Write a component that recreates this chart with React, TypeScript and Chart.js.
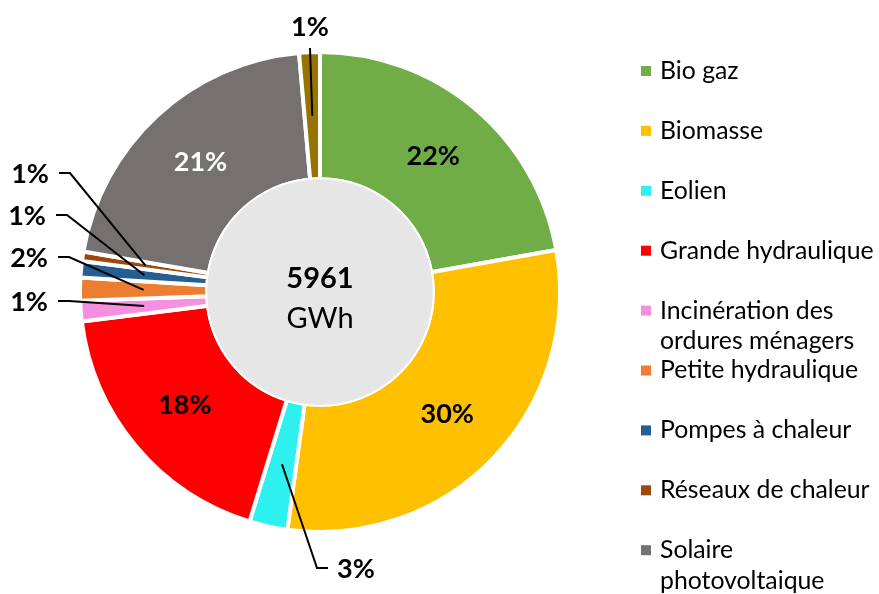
import React, { useEffect, useRef } from 'react';
import { Chart, registerables } from 'chart.js';

Chart.register(...registerables);

// ---- data ----
const LABELS: (string | string[])[] = [
  'Bio gaz',
  'Biomasse',
  'Eolien',
  'Grande hydraulique',
  ['Incinération des', 'ordures ménagers'],
  'Petite hydraulique',
  'Pompes à chaleur',
  'Réseaux de chaleur',
  ['Solaire', 'photovoltaique'],
  'Solaire thermique',
];
const VALUES_GWH = [1323, 1787, 153, 1091, 82, 92, 66, 38, 1246, 83];
const TOTAL_TEXT = '5961';
const UNIT_TEXT = 'GWh';

// ---- styles ----
const COLORS = ['#70AD47', '#FFC000', '#2EF0EE', '#FF0000', '#F58FDF', '#ED7D31', '#255E91', '#9E480E', '#767171', '#997300'];
const INSIDE_TEXT_COLORS = ['#000', '#000', '#000', '#000', '#000', '#000', '#000', '#000', '#FFF', '#000'];
const FONT = 'Lato, "Open Sans", "DejaVu Sans", sans-serif';

// callout placement (relative to the doughnut centre) for the slices labelled outside the ring
type Callout = { dx: number; dy: number; align: 'left' | 'right' | 'center' } | null;
const CALLOUTS: Callout[] = [
  null,
  null,
  { dx: 17, dy: 277, align: 'left' },
  null,
  { dx: -272, dy: 10, align: 'right' },
  { dx: -272, dy: -34, align: 'right' },
  { dx: -274, dy: -76, align: 'right' },
  { dx: -271, dy: -118, align: 'right' },
  null,
  { dx: -10, dy: -265, align: 'center' },
];

const pct = (v: number, total: number) => Math.round((v / total) * 100) + '%';

const labelsPlugin = {
  id: 'customLabels',
  afterDatasetsDraw(chart: any) {
    const ctx: CanvasRenderingContext2D = chart.ctx;
    const meta = chart.getDatasetMeta(0);
    const arcs = meta.data;
    if (!arcs.length) return;
    const a0 = arcs[0];
    const cx = a0.x;
    const cy = a0.y;
    const inner = a0.innerRadius;
    const values: number[] = chart.data.datasets[0].data;
    const total = values.reduce((s, v) => s + v, 0);

    // centre disc
    ctx.save();
    ctx.beginPath();
    ctx.arc(cx, cy, inner + 1, 0, Math.PI * 2);
    ctx.fillStyle = '#E7E6E6';
    ctx.fill();
    ctx.lineWidth = 2;
    ctx.strokeStyle = '#FFFFFF';
    ctx.stroke();
    ctx.fillStyle = '#000';
    ctx.textAlign = 'center';
    ctx.textBaseline = 'middle';
    ctx.font = `bold 29px ${FONT}`;
    ctx.fillText(TOTAL_TEXT, cx, cy - 13);
    ctx.font = `29px ${FONT}`;
    ctx.fillText(UNIT_TEXT, cx, cy + 27);
    ctx.restore();

    // data labels
    ctx.save();
    ctx.font = `bold 27px ${FONT}`;
    ctx.textBaseline = 'middle';
    arcs.forEach((arc: any, i: number) => {
      const p = arc.getProps(['startAngle', 'endAngle', 'innerRadius', 'outerRadius', 'x', 'y'], true);
      const mid = (p.startAngle + p.endAngle) / 2;
      const r = (p.innerRadius + p.outerRadius) / 2;
      const px = p.x + Math.cos(mid) * r;
      const py = p.y + Math.sin(mid) * r;
      const text = pct(values[i], total);
      const co = CALLOUTS[i];
      if (!co) {
        ctx.fillStyle = INSIDE_TEXT_COLORS[i];
        ctx.textAlign = 'center';
        ctx.fillText(text, px, py);
        return;
      }
      const tx = cx + co.dx;
      const ty = cy + co.dy;
      ctx.strokeStyle = '#000';
      ctx.lineWidth = 2;
      ctx.beginPath();
      if (co.align === 'center') {
        ctx.moveTo(tx, ty + 21);
        ctx.lineTo(px, py);
      } else if (co.align === 'left') {
        ctx.moveTo(tx - 9, ty - 1);
        ctx.lineTo(tx - 20, ty - 1);
        ctx.lineTo(px, py);
      } else {
        ctx.moveTo(tx + 10, ty - 1);
        ctx.lineTo(tx + 21, ty - 1);
        ctx.lineTo(px, py);
      }
      ctx.stroke();
      ctx.fillStyle = '#000';
      ctx.textAlign = co.align;
      ctx.fillText(text, tx, ty);
    });
    ctx.restore();
  },
  afterDraw(chart: any) {
    // legend
    const ctx: CanvasRenderingContext2D = chart.ctx;
    const area = chart.chartArea;
    const boxX = area.right + 79;
    const textX = boxX + 19;
    const startY = 71;
    const pitch = 59.9;
    const lineH = 30.5;
    ctx.save();
    ctx.font = `24.8px ${FONT}`;
    ctx.textBaseline = 'middle';
    ctx.textAlign = 'left';
    (chart.data.labels as (string | string[])[]).forEach((lab, i) => {
      const y = startY + i * pitch;
      ctx.fillStyle = COLORS[i];
      ctx.fillRect(boxX, y - 5, 10, 10);
      ctx.fillStyle = '#000';
      const lines = Array.isArray(lab) ? lab : [lab];
      lines.forEach((ln, k) => ctx.fillText(ln, textX, y + k * lineH));
    });
    ctx.restore();
  },
};

export default function App() {
  const ref = useRef<HTMLCanvasElement | null>(null);
  useEffect(() => {
    if (!ref.current) return;
    const chart = new Chart(ref.current, {
      type: 'doughnut',
      data: {
        labels: LABELS as any,
        datasets: [
          {
            data: VALUES_GWH,
            backgroundColor: COLORS,
            borderColor: '#FFFFFF',
            borderWidth: 4,
          },
        ],
      },
      options: {
        responsive: false,
        animation: false,
        cutout: '47%',
        layout: { padding: { left: 78, right: 317, top: 50, bottom: 60 } },
        plugins: {
          legend: { display: false },
          tooltip: { enabled: false },
        },
      },
      plugins: [labelsPlugin],
    });
    return () => chart.destroy();
  }, []);
  return (
    <div style={{ position: 'fixed', left: 0, top: 0, width: 879, height: 594, background: '#fff' }}>
      <canvas ref={ref} width={879} height={594} style={{ display: 'block' }} />
    </div>
  );
}
